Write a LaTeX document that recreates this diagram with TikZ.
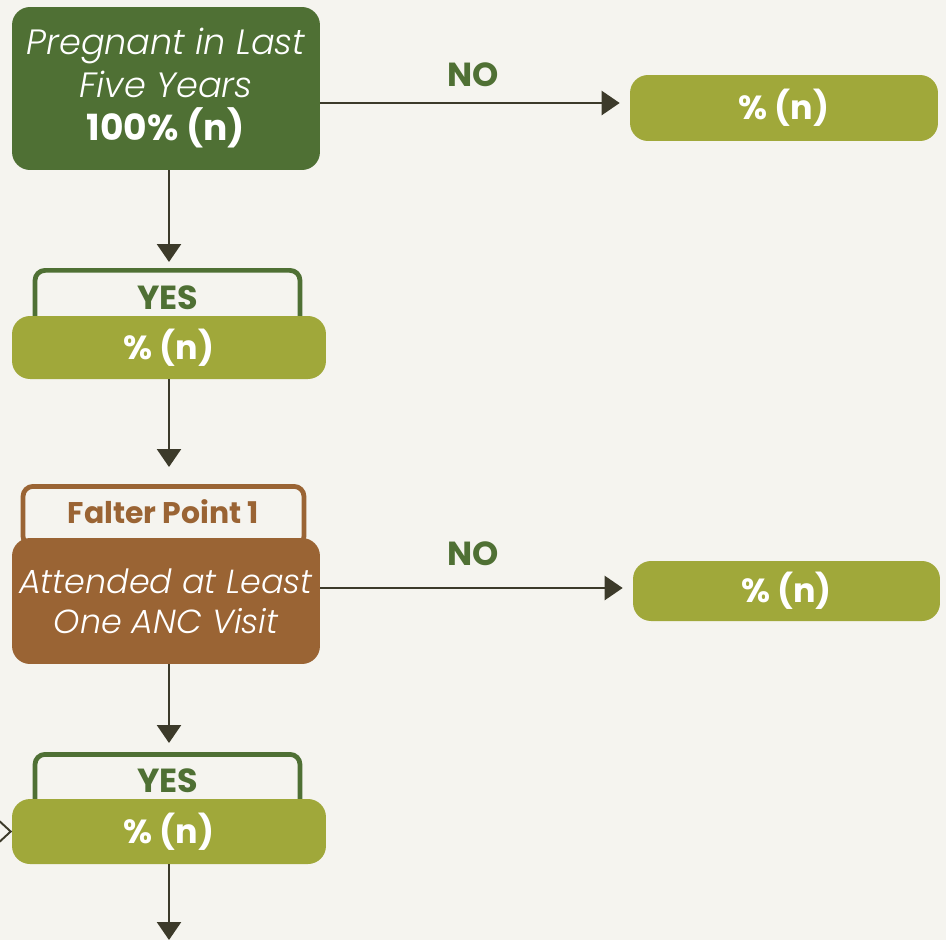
\documentclass[tikz,border=0pt]{standalone}
\usepackage{fontspec}
\setmainfont{Poppins}
\newfontfamily\poplight{Poppins}[UprightFont=* Light, ItalicFont=* Light Italic]
\usetikzlibrary{arrows.meta}
\definecolor{bgcol}{HTML}{F5F4EF}
\definecolor{dgreen}{HTML}{4F7034}
\definecolor{olive}{HTML}{A0A83A}
\definecolor{brownc}{HTML}{9A6434}
\definecolor{arrowc}{HTML}{3C3A2A}
\tikzset{
  box/.style={rounded corners=0.36cm, inner sep=0pt, align=center, text=white},
  res/.style={box, fill=olive, font=\fontsize{19}{23}\selectfont\bfseries},
  tab/.style={draw=#1, line width=2.7pt, rounded corners=0.2cm, fill=bgcol,
    inner sep=0pt, text=#1},
  flow/.style={draw=arrowc, line width=1.4pt, -{Triangle[width=0.48cm,length=0.36cm]}},
  nolabel/.style={text=dgreen, font=\fontsize{19}{23}\selectfont\bfseries}
}
\begin{document}
\begin{tikzpicture}[x=0.02cm, y=-0.02cm]
\path[use as bounding box, fill=bgcol] (0,0) rectangle (946,940);

% first question and its outcomes
\node[box, fill=dgreen, minimum width=6.16cm, minimum height=3.26cm,
  font=\fontsize{20}{24.5}\selectfont] (preg) at (166,88.5)
  {{\poplight\itshape Pregnant in Last}\\ {\poplight\itshape Five Years}\\ \bfseries\fontsize{20.5}{24.5}\selectfont 100\% (n)};
\node[res, minimum width=6.16cm, minimum height=1.32cm] (no1) at (784,108) {\% (n)};
\node[nolabel] (nolab1) at (473,75) {NO};

\node[tab=dgreen, minimum width=5.3cm, minimum height=1.24cm, anchor=north] (yestab1) at (167.5,268) {};
\node[text=dgreen, font=\fontsize{19}{23}\selectfont\bfseries] (yeslab1) at (167.5,298) {YES};
\node[res, minimum width=6.28cm, minimum height=1.26cm] (yes1) at (169,347.5) {\% (n)};

% falter point 1
\node[tab=brownc, minimum width=5.62cm, minimum height=1.2cm, anchor=north] (faltertab) at (163.5,484) {};
\node[text=brownc, font=\fontsize{17}{20}\selectfont\bfseries] (falterlab) at (163.5,512) {Falter Point 1};
\node[box, fill=brownc, minimum width=6.16cm, minimum height=2.52cm,
  font=\fontsize{19}{22.8}\selectfont\poplight\itshape] (anc) at (166,601)
  {Attended at Least\\ One ANC Visit};
\node[res, minimum width=6.14cm, minimum height=1.2cm] (no2) at (786.5,591) {\% (n)};
\node[nolabel] (nolab2) at (473,554) {NO};

\node[tab=dgreen, minimum width=5.3cm, minimum height=1.2cm, anchor=north] (yestab2) at (167.5,752) {};
\node[text=dgreen, font=\fontsize{19}{23}\selectfont\bfseries] (yeslab2) at (167.5,781) {YES};
\node[res, minimum width=6.28cm, minimum height=1.3cm] (yes2) at (169,831.5) {\% (n)};

\coordinate (bottom) at (169,940);

% connectors
\draw[flow] (preg.east |- 0,103) -- ([xshift=-0.2cm]no1.west |- 0,103);
\draw[flow] (preg.south -| yes1.center) -- ([yshift=0.12cm]yestab1.north -| yes1.center);
\draw[flow] (yes1.south) -- ([yshift=0.34cm]faltertab.north -| yes1.center);
\draw[flow] (anc.east |- 0,588) -- ([xshift=-0.2cm]no2.west |- 0,588);
\draw[flow] (anc.south -| yes2.center) -- ([yshift=0.18cm]yestab2.north -| yes2.center);
\draw[flow] (yes2.south) -- (bottom);

% open chevron entering from the left edge
\draw[arrowc, line width=1.1pt] ([shift={(-14,-12)}]yes2.west) -- ([shift={(-1,0)}]yes2.west) -- ([shift={(-14,12)}]yes2.west);
\end{tikzpicture}
\end{document}
